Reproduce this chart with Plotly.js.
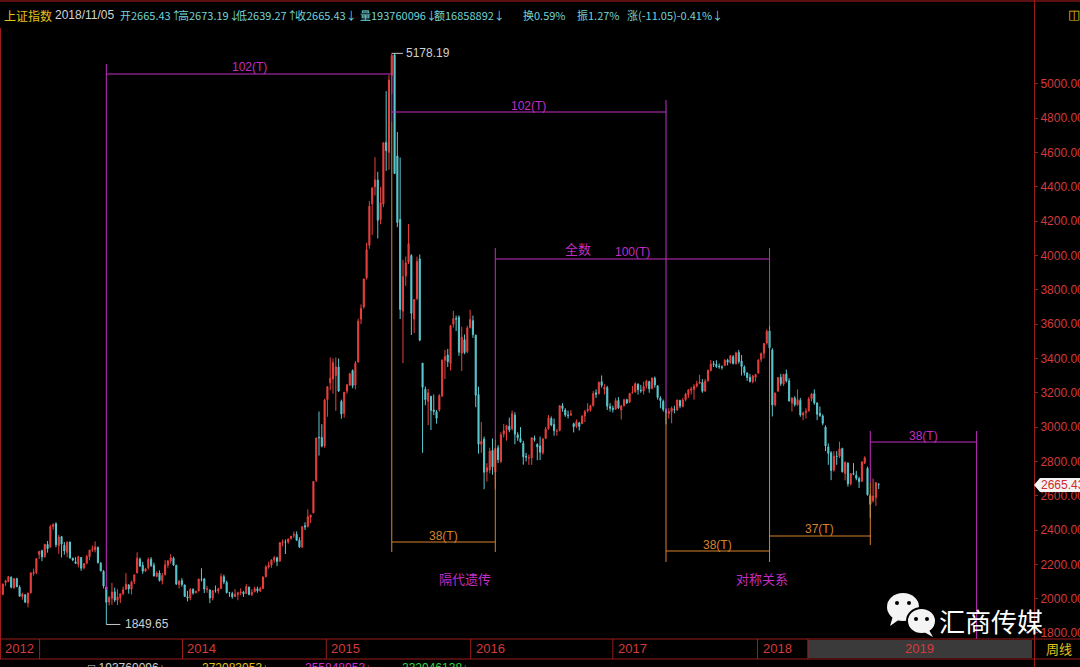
<!DOCTYPE html>
<html><head><meta charset="utf-8">
<script src="https://cdn.plot.ly/plotly-3.0.1.min.js"></script>
<style>html,body{margin:0;padding:0;background:#000;overflow:hidden}#chart{width:1080px;height:667px}</style>
</head><body><div id="chart"></div>
<script>
// Weekly OHLC, Shanghai Composite (上证指数), 2012-09 .. 2018-11-05 (bar index = week number)
const openP = [2080,2025,2094,2100,2125,2064,2116,2067,2012,2023,1975,2035,2147,2152,2258,2280,2244,2316,2300,2420,
2437,2310,2362,2312,2270,2330,2235,2215,2200,2240,2180,2207,2244,2285,2285,2300,2207,2160,2068,1980,
2003,2040,1990,2005,2030,2055,2080,2055,2100,2150,2230,2195,2160,2180,2230,2195,2130,2150,2105,2140,
2196,2220,2236,2195,2082,2105,2080,2012,2004,2055,2035,2045,2115,2115,2055,2050,2003,2048,2045,2060,
2128,2095,2035,2030,2012,2025,2035,2038,2030,2068,2025,2040,2058,2045,2060,2128,2185,2195,2226,2238,
2220,2328,2330,2330,2350,2370,2375,2340,2300,2425,2420,2475,2500,2690,2940,2940,2890,3160,3258,3280,
3300,3350,3150,3080,3210,3245,3330,3245,3380,3630,3700,3870,4060,4300,4400,4440,4210,4300,4660,4600,
5050,5170,4580,4210,3676,3880,3960,4000,3630,3750,3980,3373,3220,3150,3180,3100,3090,3100,3180,3390,
3420,3370,3600,3632,3640,3430,3510,3440,3580,3620,3536,3190,2900,2930,2740,2750,2865,2740,2880,2800,
2960,2985,3005,2990,3070,2955,2935,2905,2830,2820,2820,2935,2900,2890,2850,2935,2990,3050,3015,2975,
2980,3125,3100,3070,3070,3020,3005,3025,3020,3065,3095,3100,3125,3200,3195,3265,3220,3230,3120,3110,
3105,3155,3100,3125,3160,3145,3200,3205,3250,3215,3210,3240,3265,3225,3285,3240,3170,3150,3100,3080,
3090,3105,3100,3155,3120,3160,3190,3215,3220,3240,3255,3260,3210,3270,3330,3370,3365,3355,3350,3360,
3390,3375,3410,3370,3435,3385,3350,3315,3290,3265,3290,3315,3395,3430,3490,3560,3450,3130,3210,3290,
3250,3310,3270,3140,3170,3130,3155,3070,3085,3095,3165,3195,3140,3080,3065,3000,2885,2850,2750,2830,
2830,2875,2730,2790,2670,2730,2720,2700,2685,2790,2760,2600,2570,2590,2665.43];
const highP = [2082,2087,2110,2133,2130,2118,2122,2078,2035,2026,2035,2155,2175,2236,2276,2285,2318,2336,2430,2440,
2445,2372,2364,2330,2335,2333,2240,2242,2250,2243,2206,2256,2285,2310,2334,2302,2213,2166,2070,2015,
2092,2065,2055,2030,2070,2149,2085,2105,2140,2270,2240,2215,2180,2240,2242,2210,2160,2165,2150,2225,
2225,2260,2245,2197,2110,2120,2082,2045,2062,2060,2045,2115,2177,2120,2075,2055,2050,2077,2063,2146,
2140,2105,2040,2040,2055,2040,2060,2045,2085,2070,2055,2070,2070,2070,2130,2195,2215,2230,2248,2245,
2330,2345,2345,2352,2366,2391,2392,2358,2420,2445,2520,2490,2684,2938,3091,3017,3165,3239,3406,3400,
3406,3400,3160,3205,3250,3317,3336,3386,3632,3715,3866,4073,4317,4400,4573,4488,4400,4658,4958,5051,
5178.19,5176,4720,4571,3975,3994,4184,4008,3744,3993,4006,3373,3237,3222,3180,3190,3100,3192,3394,3450,
3456,3596,3678,3650,3651,3585,3540,3590,3684,3650,3539,3235,3030,2945,2790,2880,2933,2878,2895,2970,
3018,3009,3055,3097,3087,2970,3000,2920,2850,2840,2938,2950,2905,2945,2935,3001,3070,3062,3050,2990,
3125,3140,3110,3096,3100,3025,3045,3030,3070,3100,3140,3130,3210,3220,3265,3301,3250,3240,3140,3125,
3170,3175,3130,3165,3165,3200,3240,3260,3255,3245,3265,3275,3270,3290,3295,3245,3180,3160,3110,3110,
3120,3125,3160,3160,3170,3200,3220,3235,3250,3270,3305,3280,3280,3335,3390,3385,3390,3370,3360,3395,
3398,3420,3420,3440,3450,3420,3360,3320,3310,3305,3310,3395,3435,3490,3570,3587,3460,3200,3290,3310,
3310,3335,3285,3175,3180,3220,3170,3090,3110,3175,3200,3220,3145,3120,3075,3010,2905,2860,2860,2860,
2915,2880,2800,2795,2730,2790,2745,2710,2800,2830,2770,2610,2700,2680,2673.19];
const lowP = [2027,2020,2074,2096,2060,2058,2068,2012,1995,1974,1949,2029,2134,2143,2231,2219,2240,2268,2298,2402,
2299,2261,2240,2256,2242,2234,2218,2203,2182,2162,2170,2200,2223,2273,2270,2205,2160,2060,1849.65,1960,
1965,1980,1963,1975,2020,2052,2029,2025,2085,2148,2185,2145,2156,2170,2185,2130,2125,2100,2083,2135,
2180,2205,2190,2080,2060,2070,2010,1984,1991,2023,2030,2043,2100,2033,2035,1974,1990,2035,2030,2055,
2085,2030,2010,2000,2010,1991,2020,2010,2028,2020,2015,2038,2035,2039,2055,2125,2175,2180,2210,2190,
2215,2305,2260,2320,2345,2355,2336,2295,2298,2400,2415,2440,2500,2680,2834,2882,2880,3060,3215,3195,
3095,3205,3049,3055,3195,3240,3226,3220,3375,3600,3690,3860,4040,4120,4350,4099,4182,4282,4493,4500,
4942,4476,4165,3630,3373,3823,3950,3537,3549,3740,3500,2850,3128,3011,2983,3070,3020,3090,3180,3280,
3350,3330,3580,3560,3415,3327,3425,3430,3575,3520,3116,2845,2850,2638,2682,2730,2723,2638,2790,2790,
2940,2921,2970,2980,2900,2920,2910,2781,2800,2780,2780,2915,2807,2808,2840,2930,2985,3005,2950,2950,
2975,3090,3060,3050,3065,2969,2995,2980,3018,3030,3085,3090,3120,3170,3190,3230,3190,3100,3090,3085,
3100,3105,3044,3120,3135,3140,3195,3200,3190,3200,3190,3225,3200,3220,3230,3160,3110,3090,3016,3050,
3022,3080,3095,3110,3115,3150,3170,3190,3160,3230,3250,3200,3205,3265,3325,3350,3345,3340,3335,3355,
3360,3370,3365,3365,3370,3300,3300,3270,3260,3255,3265,3310,3380,3400,3480,3450,3062,3120,3205,3240,
3240,3260,3150,3091,3120,3125,3060,3040,3050,3090,3150,3130,3040,3060,3010,2860,2780,2691,2740,2780,
2820,2735,2690,2653,2660,2720,2690,2645,2680,2785,2600,2470,2560,2540,2639.27];
const closeP = [2027,2086,2104,2128,2067,2117,2069,2014,2027,1980,2033,2150,2153,2233,2276,2243,2317,2291,2419,2432,
2314,2359,2318,2278,2328,2237,2225,2206,2244,2177,2205,2246,2283,2288,2301,2210,2162,2073,1979,2007,
2039,1992,2010,2029,2052,2085,2057,2098,2139,2236,2191,2160,2174,2228,2193,2132,2149,2106,2135,2197,
2220,2238,2196,2085,2101,2083,2013,2004,2054,2033,2044,2115,2113,2056,2057,2004,2047,2046,2058,2130,
2097,2036,2033,2011,2026,2034,2039,2029,2070,2024,2036,2059,2046,2059,2126,2185,2194,2226,2240,2217,
2326,2331,2329,2347,2364,2374,2341,2302,2420,2418,2478,2487,2683,2937,2938,2889,3157,3235,3285,3376,
3351,3210,3076,3203,3247,3310,3241,3372,3617,3691,3863,4034,4287,4393,4441,4205,4308,4657,4611,5023,
5166,4478,4192,3686,3877,3957,4070,3663,3744,3965,3507,3232,3160,3200,3097,3092,3052,3183,3391,3412,
3382,3590,3632,3630,3436,3524,3434,3578,3627,3539,3186,2900,2916,2737,2763,2860,2767,2874,2810,2955,
2979,3009,2984,3078,2959,2938,2913,2827,2825,2821,2938,2927,2885,2854,2932,2988,3054,3012,2979,2976,
3125,3108,3070,3067,3078,3002,3033,3004,3063,3090,3104,3125,3196,3192,3261,3243,3232,3122,3110,3103,
3154,3112,3123,3159,3140,3196,3202,3253,3218,3212,3237,3269,3223,3286,3246,3173,3155,3103,3083,3091,
3110,3102,3158,3123,3158,3192,3217,3222,3238,3253,3262,3209,3268,3331,3367,3365,3353,3352,3349,3390,
3378,3416,3371,3432,3382,3353,3317,3289,3266,3297,3307,3391,3429,3487,3558,3462,3129,3199,3289,3254,
3307,3269,3152,3169,3131,3160,3071,3082,3092,3163,3193,3141,3075,3067,3022,2890,2847,2747,2831,2829,
2874,2740,2795,2669,2729,2725,2702,2682,2797,2821,2606,2550,2598,2676,2665.43];

// year labels on the time strip (bar-index positions)
const yearLabels = ['2012', '', '2014', '2015', '2016', '2017', '2018'];
const yearTickIdx = [0, 14.15, 65.2, 116.6, 168.2, 219.0, 270.7];
const futureBox = {label: '2019', from: 288.7, to: 368.8};

// cycle brackets: bar indices of the pivots
const bracketIdx = [38, 140, 177, 238, 275, 311, 349];
const lastPrice = 2665.43;
const peakVal = 5178.19, lowVal = 1849.65;

const Y0 = 1765, Y1 = 5326, XMAX = 369.5;
const PW = 1034, PTOP = 28, PBOT = 639;
function P(py){ return Y1 - (py - PTOP) * (Y1 - Y0) / (PBOT - PTOP); }   // pixel row -> price
function I(px){ return px * XMAX / PW; }                                   // pixel col -> bar index
function X(px){ return px / PW; }                                          // paper x
function Y(py){ return (PBOT - py) / (PBOT - PTOP); }                      // paper y

const RED = '#e8413f', CYAN = '#5cc8d0', MAG = '#c22ec2', ORG = '#d8822c', AXR = '#9c1c1c', TXR = '#d43a3a';

const xs = closeP.map((_, i) => i);
const trace = {
  type: 'candlestick', x: xs, open: openP, high: highP, low: lowP, close: closeP,
  increasing: {line: {color: RED, width: 1}, fillcolor: RED},
  decreasing: {line: {color: CYAN, width: 1}, fillcolor: CYAN},
  whiskerwidth: 0, hoverinfo: 'skip'
};

const shapes = [];
function vl(i, y0, y1, c){ shapes.push({type:'line', xref:'x', yref:'y', x0:i, x1:i, y0:y0, y1:y1, line:{color:c, width:1}}); }
function hl(i0, i1, y, c){ shapes.push({type:'line', xref:'x', yref:'y', x0:i0, x1:i1, y0:y, y1:y, line:{color:c, width:1}}); }
const [b0, b1, b2, b3, b4, b5, b6] = bracketIdx;
// magenta brackets
vl(b0, P(64), P(590), MAG); hl(b0, b1, P(74), MAG); vl(b1, P(74), P(122), MAG);
hl(b1, b3, P(112), MAG); vl(b3, P(100), P(413), MAG);
hl(b2, b4, P(259), MAG); vl(b2, P(248), P(440), MAG); vl(b4, P(248), P(326), MAG);
hl(b5, b6, P(442), MAG); vl(b5, P(431), P(483), MAG); vl(b6, P(431), P(645), MAG);
// orange brackets
vl(b1, P(122), P(552), ORG); vl(b2, P(440), P(552), ORG); hl(b1, b2, P(542), ORG);
vl(b3, P(413), P(562), ORG); vl(b4, P(326), P(562), ORG); hl(b3, b4, P(551), ORG);
hl(b4, b5, P(536), ORG); vl(b5, P(483), P(545), ORG);
// high / low markers
hl(b1, b1 + 4, peakVal, '#c8c8c8'); hl(b0, b0 + 5, lowVal, '#c8c8c8');

// frame & time strip (paper coords)
function pl(x0, y0, x1, y1, c, w){ shapes.push({type:'line', xref:'paper', yref:'paper', x0:x0, y0:y0, x1:x1, y1:y1, line:{color:c, width:w||1}}); }
pl(X(0.5), Y(28), X(0.5), Y(659), AXR);
pl(0, Y(1), X(1080), Y(1), '#5a1010', 2);
pl(X(1034.5), Y(0), X(1034.5), Y(667), AXR);
shapes.push({type:'rect', xref:'paper', yref:'paper', x0:futureBox.from / XMAX, x1:futureBox.to / XMAX, y0:Y(658), y1:Y(640), fillcolor:'#3a3a3a', line:{width:0}});
pl(0, Y(639), X(1080), Y(639), AXR); pl(0, Y(659), X(1080), Y(659), AXR);
yearTickIdx.forEach(i => { if (i > 0) pl(i / XMAX, Y(639), i / XMAX, Y(659), AXR); });
pl(futureBox.from / XMAX, Y(639), futureBox.from / XMAX, Y(659), AXR);
// price tag arrow
shapes.push({type:'path', xref:'paper', yref:'paper', path:`M ${X(1034)} ${Y(485)} L ${X(1040)} ${Y(478)} L ${X(1080)} ${Y(478)} L ${X(1080)} ${Y(492)} L ${X(1040)} ${Y(492)} Z`, fillcolor:'#f4f4f4', line:{width:0}});
// WeChat logo
shapes.push({type:'circle', xref:'paper', yref:'paper', x0:X(887), x1:X(919), y0:Y(593), y1:Y(621), fillcolor:'#f4f4f4', line:{width:0}});
shapes.push({type:'path', xref:'paper', yref:'paper', path:`M ${X(893)} ${Y(616)} L ${X(890)} ${Y(626)} L ${X(900)} ${Y(619)} Z`, fillcolor:'#f4f4f4', line:{width:0}});
shapes.push({type:'circle', xref:'paper', yref:'paper', x0:X(907), x1:X(936), y0:Y(608), y1:Y(634), fillcolor:'#f4f4f4', line:{color:'#000', width:2}});
shapes.push({type:'path', xref:'paper', yref:'paper', path:`M ${X(929)} ${Y(630)} L ${X(933)} ${Y(637)} L ${X(924)} ${Y(632)} Z`, fillcolor:'#f4f4f4', line:{width:0}});
[[897,603],[909,603],[916,619],[927,619]].forEach(([cx, cy]) => shapes.push({type:'circle', xref:'paper', yref:'paper', x0:X(cx-2), x1:X(cx+2), y0:Y(cy-2), y1:Y(cy+2), fillcolor:'#000', line:{width:0}}));

const ann = [];
const CJK = 'Noto Sans CJK SC, sans-serif', LAT = 'Liberation Sans, Arial, sans-serif';
function ta(text, x, y, color, size, opt){ ann.push(Object.assign({text:text, x:x, y:y, xref:'x', yref:'y', showarrow:false, yanchor:'middle', font:{color:color, size:size||12, family:LAT}}, opt||{})); }
ta('102(T)', (b0 + b1) / 2, P(67), MAG);
ta('102(T)', (b1 + b3) / 2, P(106), MAG);
ta('全数', I(578), P(248), MAG, 13, {font:{color:MAG, size:13, family:CJK}});
ta('100(T)', (b2 + b4) / 2, P(252), MAG);
ta('38(T)', (b1 + b2) / 2, P(536), ORG);
ta('38(T)', (b3 + b4) / 2, P(545), ORG);
ta('37(T)', (b4 + b5) / 2, P(529), ORG);
ta('38(T)', (b5 + b6) / 2, P(436), MAG);
ta('隔代遗传', I(465), P(578), MAG, 13, {font:{color:MAG, size:13, family:CJK}});
ta('对称关系', I(762), P(578), MAG, 13, {font:{color:MAG, size:13, family:CJK}});
ta(peakVal.toFixed(2), b1 + 4.3, peakVal, '#d0d0d0', 12, {xanchor:'left'});
ta(lowVal.toFixed(2), b0 + 5.8, lowVal, '#d0d0d0', 12, {xanchor:'left'});

function pa(text, px, py, color, size, family, opt){ ann.push(Object.assign({text:text, x:X(px), y:Y(py), xref:'paper', yref:'paper', xanchor:'left', yanchor:'middle', showarrow:false, font:{color:color, size:size||12, family:family||CJK}}, opt||{})); }
// header
const HC = '#74d2d6', HS = 11;
pa('上证指数', 2, 15, '#e4c21a', 12);
pa('2018/11/05', 53, 15, '#d4d4d4', 12, LAT);
pa('开2665.43↑', 118, 15, HC, HS); pa('高2673.19↓', 176, 15, HC, HS); pa('低2639.27↑', 234, 15, HC, HS);
pa('收2665.43↓', 293, 15, HC, HS); pa('量193760096↓', 358, 15, HC, HS); pa('额16858892↓', 432, 15, HC, HS);
pa('换0.59%', 521, 15, HC, HS); pa('振1.27%', 575, 15, HC, HS); pa('涨(-11.05)-0.41%↓', 625, 15, HC, HS);
pa('◫', 1066, 14, '#e4c21a', 13, LAT);
// time strip labels
yearLabels.forEach((t, k) => { if (t) ann.push({text:t, x:yearTickIdx[k] / XMAX + X(3), y:Y(649), xref:'paper', yref:'paper', xanchor:'left', yanchor:'middle', showarrow:false, font:{color:TXR, size:13, family:LAT}}); });
ann.push({text:futureBox.label, x:(futureBox.from + futureBox.to) / 2 / XMAX, y:Y(649), xref:'paper', yref:'paper', xanchor:'center', yanchor:'middle', showarrow:false, font:{color:TXR, size:13, family:LAT}});
pa('周线', 1044, 649, '#e4c21a', 13);
// price tag
ann.push({text:lastPrice.toFixed(2), x:X(1039), y:lastPrice, xref:'paper', yref:'y', xanchor:'left', yanchor:'middle', showarrow:false, font:{color:'#d42a2a', size:12, family:LAT}});
// watermark
pa('汇商传媒', 937, 620, '#ffffff', 26);
// clipped indicator row at the bottom
pa('□ 193760096↓', 86, 668, '#d0d0d0', 12, LAT);
pa('272083053↓', 200, 668, '#e4c21a', 12, LAT);
pa('255848953↓', 303, 668, '#d030d0', 12, LAT);
pa('232946138↓', 400, 668, '#3ad040', 12, LAT);

const tv = []; for (let v = 1800; v <= 5000; v += 200) tv.push(v);
const layout = {
  width: 1080, height: 667, paper_bgcolor: '#000', plot_bgcolor: '#000',
  margin: {l: 0, r: 46, t: 28, b: 28, pad: 0}, showlegend: false, hovermode: false,
  font: {family: LAT, color: TXR},
  boxgap: 0.45,
  xaxis: {range: [0, XMAX], visible: false, rangeslider: {visible: false}, fixedrange: true},
  yaxis: {range: [Y0, Y1], side: 'right', showgrid: false, zeroline: false, showline: false,
          ticks: 'outside', ticklen: 3, tickcolor: AXR, tickvals: tv, tickformat: '.2f',
          tickfont: {color: TXR, size: 12, family: LAT}, fixedrange: true},
  shapes: shapes, annotations: ann
};
Plotly.newPlot('chart', [trace], layout, {staticPlot: true, displayModeBar: false});
</script></body></html>
